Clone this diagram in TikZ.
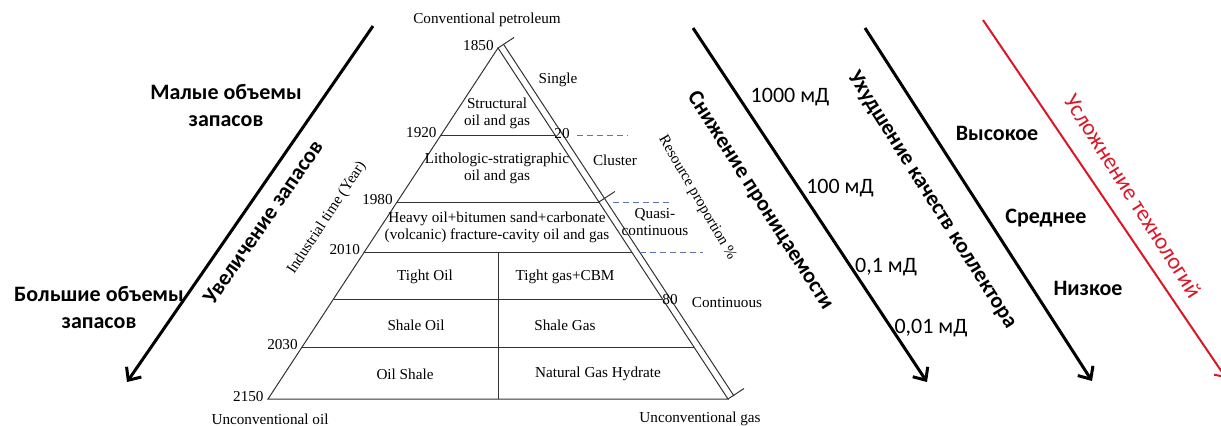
\documentclass[tikz,border=0pt]{standalone}
\usepackage{fontspec}
\setmainfont{Liberation Serif}
\newfontfamily\rufont{Carlito}
\usepackage{tikz}
\usetikzlibrary{arrows.meta,positioning,calc}
\definecolor{dashblue}{RGB}{95,115,175}
\definecolor{techred}{RGB}{220,22,38}

\begin{document}
\begin{tikzpicture}[x=0.5pt,y=-0.5pt,
  pyr/.style={draw=black!80, line width=0.5pt},
  lbl/.style={font=\fontsize{7.6}{8.6}\selectfont, inner sep=1pt, align=center},
  ru/.style={font=\rufont\bfseries\fontsize{11}{13.5}\selectfont, inner sep=0pt, align=center},
  rureg/.style={font=\rufont\fontsize{11}{13.5}\selectfont, inner sep=0pt},
  bigarrow/.style={line width=1.5pt, -{Straight Barb[length=5pt,width=9pt]}},
  levline/.style={draw=dashblue, line width=0.4pt, dash pattern=on 3pt off 2pt}]
\useasboundingbox (0,0) rectangle (1221,425);
\clip (0,0) rectangle (1221,425);

% Pyramid of resources
\coordinate (apex) at (498,48);
\coordinate (bl) at (268,399);
\coordinate (br) at (728,399);
\draw[pyr] (bl) -- (apex) -- (br) -- cycle;
\foreach \y in {135,202,252,299,347}
  \draw[pyr] ({498-0.6553*(\y-48)},\y) -- ({498+0.6553*(\y-48)},\y);
\draw[pyr] (498,252) -- (498,399);

% Resource proportion strip
\draw[pyr] (504,45) -- (734,396);
\foreach \y in {48,202,399}
  \draw[pyr] ({498+0.6553*(\y-48)},\y) -- ++(16,-10.5);
\draw[levline] (577,135) -- (628,135);
\draw[levline] (613,202) -- (670,202);
\draw[levline] (640,252) -- (703,252);

% Years
\foreach \y/\yr in {48/1850,135/1920,202/1980,252/2010,347/2030,399/2150}
  \node[lbl, anchor=east] (yr\yr) at ({496-0.6553*(\y-48)},\y-2) {\yr};
\node[lbl] (conv) at (487,20) {Conventional petroleum};
\node[lbl] (uoil) at (270,419) {Unconventional oil};
\node[lbl] (ugas) at (700,419) {Unconventional gas};
\node[lbl, rotate=56.8] (itime) at (327,218) {Industrial time (Year)};
\node[lbl, rotate=-60] (rprop) at (697,198) {Resource proportion \%};

% Cells
\node[lbl] (struct) at (497,113) {Structural\\oil and gas};
\node[lbl] (litho) at (497,168) {Lithologic-stratigraphic\\oil and gas};
\node[lbl] (heavy) at (497,227) {Heavy oil+bitumen sand+carbonate\\(volcanic) fracture-cavity oil and gas};
\node[lbl] (toil) at (425,277) {Tight Oil};
\node[lbl] (tgas) at (565,277) {Tight gas+CBM};
\node[lbl] (soil) at (416,325) {Shale Oil};
\node[lbl] (sgas) at (565,325) {Shale Gas};
\node[lbl] (oshale) at (405,374) {Oil Shale};
\node[lbl] (hydr) at (598,374) {Natural Gas Hydrate};

% Strip labels
\node[lbl] (p20) at (562,134) {20};
\node[lbl] (p80) at (670,300) {80};
\node[lbl] (single) at (558,80) {Single};
\node[lbl] (cluster) at (615,160) {Cluster};
\node[lbl] (quasi) at (655,222) {Quasi-\\continuous};
\node[lbl] (contin) at (727,303) {Continuous};

% Reserves arrow
\coordinate (a1s) at (373,26);
\coordinate (a1e) at (127,382);
\draw[bigarrow] (a1s) -- (a1e);
\node[ru] (small) at (226,105) {Малые объемы\\запасов};
\node[ru] (large) at (99,307) {Большие объемы\\запасов};
\node[ru, rotate=55.3] (incr) at (263,222) {Увеличение запасов};

% Permeability arrow
\coordinate (a2s) at (693,28);
\coordinate (a2e) at (927,382);
\draw[bigarrow] (a2s) -- (a2e);
\node[ru, rotate=-57.5] (perm) at (760,201) {Снижение проницаемости};
\node[rureg] (k1000) at (790,97) {1000 мД};
\node[rureg] (k100) at (840,188) {100 мД};
\node[rureg] (k01) at (886,267) {0,1 мД};
\node[rureg] (k001) at (931,328) {0,01 мД};

% Reservoir quality arrow
\coordinate (a3s) at (865,28);
\coordinate (a3e) at (1092,381);
\draw[bigarrow] (a3s) -- (a3e);
\node[ru, rotate=-57.8] (qual) at (932,200) {Ухудшение качеств коллектора};
\node[ru] (high) at (997,133) {Высокое};
\node[ru] (mid) at (1046,218) {Среднее};
\node[ru] (low) at (1088,288) {Низкое};

% Technology arrow
\coordinate (a4s) at (983,20);
\coordinate (a4e) at (1226,378);
\draw[line width=1pt, techred, -{Straight Barb[length=4pt,width=8pt]}] (a4s) -- (a4e);
\node[rureg, font=\rufont\fontsize{11.5}{13.5}\selectfont, text=techred, rotate=-57.5] (tech) at (1133,196) {Усложнение технологий};
\end{tikzpicture}
\end{document}
